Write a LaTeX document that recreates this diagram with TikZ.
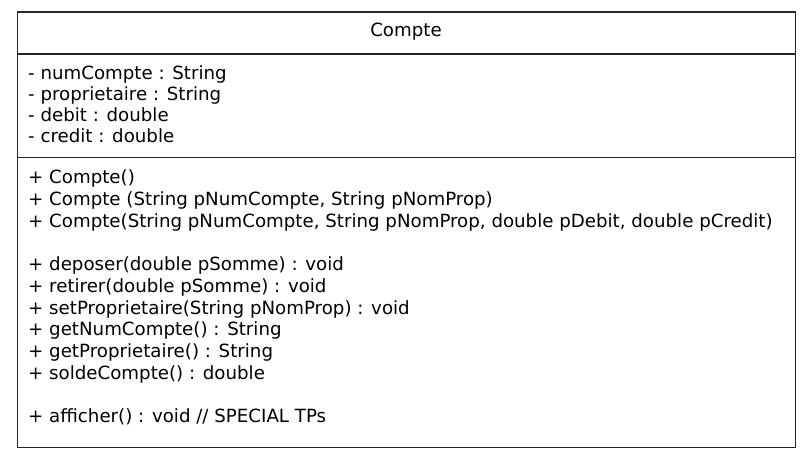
\documentclass[tikz,border=0pt]{standalone}
\usepackage{fontspec}
\setmainfont{DejaVu Sans}
\begin{document}
\begin{tikzpicture}[x=1pt,y=-1pt,
  frame/.style={draw=black!85,line width=1.2pt},
  member/.style={anchor=base west,inner sep=0pt,font=\fontsize{18.2}{21}\selectfont},
  title/.style={anchor=base,inner sep=0pt,font=\fontsize{18.2}{21}\selectfont}]
\useasboundingbox (0,0) rectangle (808,462);
% class box with its two separators
\draw[frame] (17.5,12) rectangle (795.5,447.5);
\draw[frame] (17.5,54) -- (795.5,54);
\draw[frame] (17.5,157.5) -- (795.5,157.5);
% class name
\node[title] (name) at (406,36.5) {Compte};
% attributes
\node[member] (a1) at (28,80) {- numCompte : String};
\node[member] (a2) at (28,101) {- proprietaire : String};
\node[member] (a3) at (28,122) {- debit : double};
\node[member] (a4) at (28,143) {- credit : double};
% operations
\node[member] (m1) at (28,184) {+ Compte()};
\node[member] (m2) at (28,205.7) {+ Compte (String pNumCompte, String pNomProp)};
\node[member] (m3) at (28,227.4) {+ Compte(String pNumCompte, String pNomProp, double pDebit, double pCredit)};
\node[member] (m4) at (28,270.7) {+ deposer(double pSomme) : void};
\node[member] (m5) at (28,292.4) {+ retirer(double pSomme) : void};
\node[member] (m6) at (28,314.1) {+ setProprietaire(String pNomProp) : void};
\node[member] (m7) at (28,335.8) {+ getNumCompte() : String};
\node[member] (m8) at (28,357.4) {+ getProprietaire() : String};
\node[member] (m9) at (28,379.1) {+ soldeCompte() : double};
\node[member] (m10) at (28,422.5) {+ afficher() : void // SPECIAL TPs};
\end{tikzpicture}
\end{document}
